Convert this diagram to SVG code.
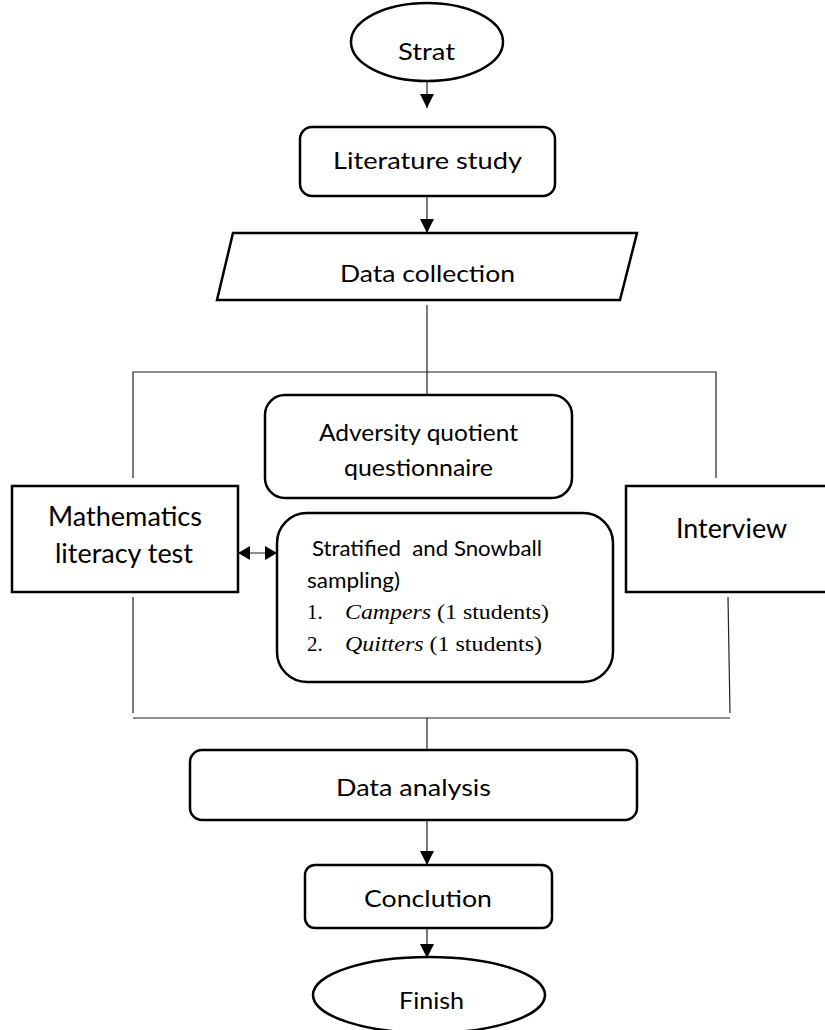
<svg xmlns="http://www.w3.org/2000/svg" width="825" height="1030" viewBox="0 0 825 1030">
<style>
.box{fill:#fff;stroke:#000;stroke-width:2.5}
.ln{fill:none;stroke:#222;stroke-width:1.2}
.t{font-family:Lato,"Open Sans","Liberation Sans",sans-serif;fill:#000}
.tm{font-family:"Liberation Serif","Times New Roman",serif;fill:#000;font-size:21px}
</style>
<defs>
<marker id="ah" markerUnits="userSpaceOnUse" markerWidth="16" markerHeight="16" refX="14" refY="7" orient="auto">
<path d="M0,0 L14,7 L0,14 z" fill="#000"/>
</marker>
<marker id="ahs" markerUnits="userSpaceOnUse" markerWidth="14" markerHeight="16" refX="12" refY="7" orient="auto-start-reverse">
<path d="M0,0 L12,7 L0,14 z" fill="#000"/>
</marker>
</defs>
<rect width="825" height="1030" fill="#fff"/>
<g id="connectors">
<line class="ln" x1="427" y1="81" x2="427" y2="108" marker-end="url(#ah)"/>
<line class="ln" x1="427" y1="196" x2="427" y2="233" marker-end="url(#ah)"/>
<line class="ln" x1="427" y1="305" x2="427" y2="395"/>
<polyline class="ln" points="133,478 133,372 716,372 716,478"/>
<line class="ln" x1="238" y1="553" x2="277" y2="553" marker-start="url(#ahs)" marker-end="url(#ahs)"/>
<polyline class="ln" points="133,597 133,713"/>
<polyline class="ln" points="728,597 730,713"/>
<line class="ln" x1="133" y1="718" x2="730" y2="718"/>
<line class="ln" x1="427" y1="718" x2="427" y2="750"/>
<line class="ln" x1="427" y1="820" x2="427" y2="865" marker-end="url(#ah)"/>
<line class="ln" x1="427" y1="928" x2="427" y2="958" marker-end="url(#ah)"/>
</g>
<g id="start">
<ellipse class="box" cx="427" cy="42" rx="76" ry="39"/>
<text class="t" x="398" y="60" font-size="24" textLength="57" lengthAdjust="spacingAndGlyphs">Strat</text>
</g>
<g id="literature">
<rect class="box" x="300" y="127" width="255" height="69" rx="12"/>
<text class="t" x="333" y="169" font-size="24" textLength="189" lengthAdjust="spacingAndGlyphs">Literature study</text>
</g>
<g id="collection">
<polygon class="box" points="233,233 637,233 620,300 217,300"/>
<text class="t" x="340" y="282" font-size="24" textLength="175" lengthAdjust="spacingAndGlyphs">Data collection</text>
</g>
<g id="adversity">
<rect class="box" x="265" y="395" width="307" height="103" rx="20"/>
<text class="t" x="319" y="441" font-size="23" textLength="199" lengthAdjust="spacingAndGlyphs">Adversity quotient</text>
<text class="t" x="344" y="476" font-size="23" textLength="149" lengthAdjust="spacingAndGlyphs">questionnaire</text>
</g>
<g id="math">
<rect class="box" x="12" y="486" width="226" height="106"/>
<text class="t" x="48" y="526" font-size="26" textLength="154" lengthAdjust="spacingAndGlyphs">Mathematics</text>
<text class="t" x="55" y="563" font-size="26" textLength="138" lengthAdjust="spacingAndGlyphs">literacy test</text>
</g>
<g id="interview">
<rect class="box" x="626" y="486" width="210" height="106"/>
<text class="t" x="676" y="538" font-size="26" textLength="111" lengthAdjust="spacingAndGlyphs">Interview</text>
</g>
<g id="sampling">
<rect class="box" x="277" y="513" width="336" height="169" rx="30"/>
<text class="t" x="312" y="556" font-size="21" textLength="230" lengthAdjust="spacingAndGlyphs" xml:space="preserve">Stratified  and Snowball</text>
<text class="t" x="307" y="588" font-size="21" textLength="93" lengthAdjust="spacingAndGlyphs">sampling)</text>
<text class="tm" x="307" y="619">1.</text>
<text class="tm" x="345" y="619" textLength="204" lengthAdjust="spacingAndGlyphs"><tspan font-style="italic">Campers</tspan> (1 students)</text>
<text class="tm" x="307" y="651">2.</text>
<text class="tm" x="345" y="651" textLength="197" lengthAdjust="spacingAndGlyphs"><tspan font-style="italic">Quitters</tspan> (1 students)</text>
</g>
<g id="analysis">
<rect class="box" x="190" y="750" width="447" height="70" rx="12"/>
<text class="t" x="336" y="796" font-size="24" textLength="155" lengthAdjust="spacingAndGlyphs">Data analysis</text>
</g>
<g id="conclusion">
<rect class="box" x="305" y="865" width="247" height="63" rx="10"/>
<text class="t" x="364" y="907" font-size="24" textLength="128" lengthAdjust="spacingAndGlyphs">Conclution</text>
</g>
<g id="finish">
<ellipse class="box" cx="429" cy="995" rx="116" ry="38"/>
<text class="t" x="399" y="1009" font-size="24" textLength="65" lengthAdjust="spacingAndGlyphs">Finish</text>
</g>
</svg>
